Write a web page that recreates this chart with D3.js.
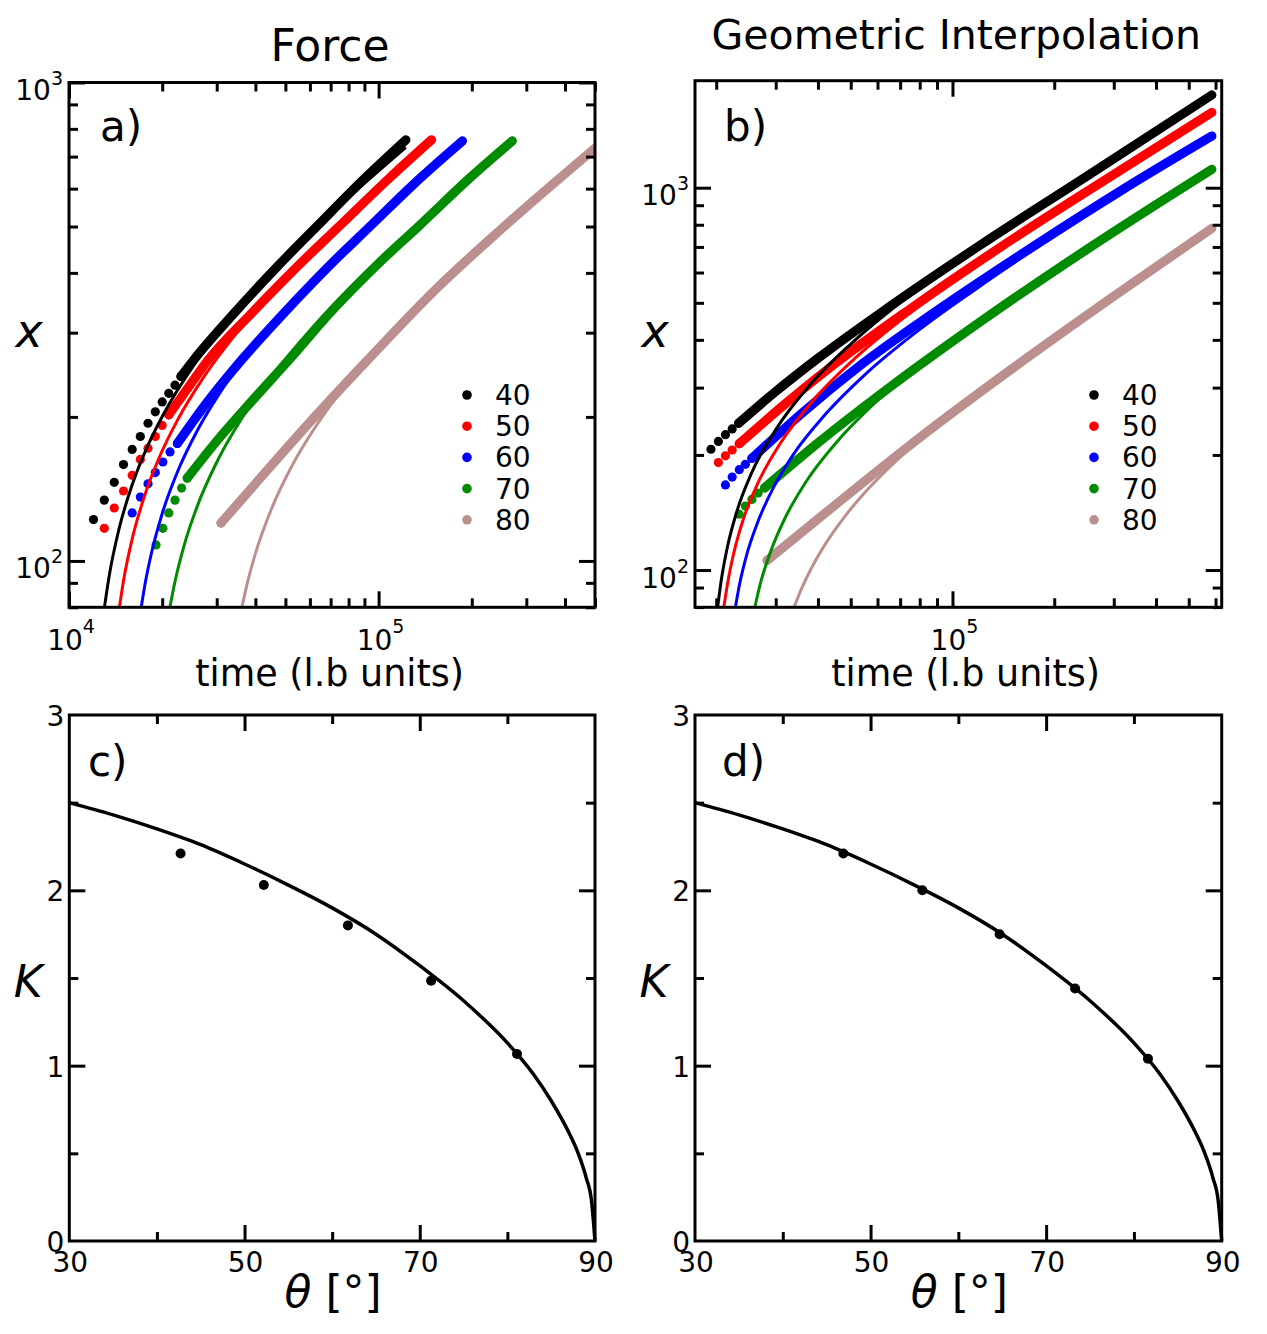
<!DOCTYPE html>
<html>
<head>
<meta charset="utf-8">
<title>Capillary filling: Force vs Geometric Interpolation</title>
<script src="https://cdn.jsdelivr.net/npm/d3@7"></script>
<style>
  body { margin: 0; background: #fff; }
  text { font-family: "DejaVu Sans", sans-serif; fill: #000; }
</style>
</head>
<body>
<div id="chart"></div>
<script>
/* * * * * * * * * * * * * *
*          data            *
* * * * * * * * * * * * * */

// contact angles, one series each
const angles = ["40", "50", "60", "70", "80"];
const seriesColors = ["#000000", "#ff0000", "#0000ff", "#008b00", "#bc8f8f"];

// panel a) Force : early dots that stand alone, [time, x]
const forceDots = [
    [[12000, 122], [13000, 134], [14000, 146], [15000, 159], [16000, 171], [17000, 182], [18000, 194], [19000, 205], [20000, 215], [21000, 224], [22000, 233], [23000, 243]],
    [[13000, 117], [14000, 129], [15000, 140], [16000, 151], [17000, 163], [18000, 172], [19000, 182], [20000, 192], [21000, 202]],
    [[16000, 126], [17000, 136], [18000, 145], [19000, 153], [20100, 161], [21200, 169], [22400, 176]],
    [[19100, 108], [20100, 117], [21000, 126], [22000, 134], [23100, 142], [24100, 149]],
    [[30970, 120]]
];
// panel a) the dots pile up into a band further on
const forceBand = [
    [[23000, 243], [25260, 263], [34220, 330], [47030, 412], [63100, 500], [90000, 630], [122500, 759]],
    [[21000, 202], [24000, 228], [28140, 263], [39000, 330], [54550, 412], [74460, 500], [108000, 630], [148300, 759]],
    [[22400, 176], [28000, 215], [36090, 263], [49960, 332], [69600, 415], [94650, 503], [135900, 630], [186600, 755]],
    [[24100, 149], [30000, 178], [39000, 216], [51320, 263], [71200, 335], [99700, 418], [135700, 503], [196200, 630], [270400, 755]],
    [[30970, 120], [40000, 145], [60000, 195], [92150, 263], [150000, 365], [250000, 495], [500000, 729]]
];
// panel a) fitted curves
const forceFit = [
    [[13015, 80], [13500, 93.5], [14500, 116.5], [16000, 144.3], [18000, 174.6], [21000, 212.1], [25000, 253.6], [32000, 313.3], [45000, 401.3], [65000, 507.6], [90000, 615.3], [122500, 731.9]],
    [[14550, 80], [15000, 90.9], [16000, 111.2], [17500, 136.2], [19500, 163.7], [22500, 197.9], [27000, 240.2], [35000, 301.1], [50000, 390.5], [75000, 505.5], [110000, 632.3], [148300, 746.7]],
    [[17110, 80], [17600, 89.4], [18500, 104.4], [20000, 125.6], [22500, 154.5], [26000, 187.6], [31000, 226.7], [40000, 283.8], [55000, 359.4], [80000, 458.4], [120000, 583.2], [186600, 745.3]],
    [[21180, 80], [22000, 90.6], [23500, 107.3], [26000, 130.5], [30000, 160.8], [36000, 197.7], [45000, 242.7], [60000, 303.3], [85000, 383.6], [130000, 496.3], [190000, 615.3], [270400, 745.6]],
    [[36200, 80], [37500, 88.8], [40000, 103.6], [45000, 128.1], [52000, 156.2], [62000, 189.1], [75000, 224.9], [92150, 264.8], [130000, 336.4], [200000, 439.2], [320000, 574], [500000, 731]]
];

// panel b) Geometric Interpolation
const geoDots = [
    [[19300, 207], [20300, 217], [21300, 226], [22300, 234], [23300, 242]],
    [[20300, 191], [21300, 199], [22300, 206], [23400, 214]],
    [[21300, 167], [22300, 175], [23400, 183], [24400, 189], [25500, 196]],
    [[23400, 140], [24400, 147], [25500, 153], [26600, 159], [27800, 164]],
    [[28300, 106]]
];
const geoBand = [
    [[23300, 242], [30000, 293], [40000, 358], [65000, 488], [120000, 705], [250000, 1072], [585000, 1748]],
    [[23400, 214], [32000, 272], [45000, 347], [75000, 482], [140000, 703], [290000, 1063], [585000, 1574]],
    [[25500, 196], [36000, 258], [52000, 337], [90000, 477], [170000, 694], [320000, 991], [585000, 1365]],
    [[27800, 164], [40000, 215], [65000, 300], [120000, 444], [250000, 690], [585000, 1117]],
    [[28300, 106], [45000, 148], [80000, 222], [150000, 336], [300000, 520], [585000, 783]]
];
const geoFit = [
    [[20200, 80], [20700, 94], [21500, 113], [23000, 142], [25500, 180], [30000, 233], [38000, 306], [50000, 390], [75000, 525]],
    [[21070, 80], [21600, 92], [22500, 110], [24000, 135], [26500, 168], [31000, 215], [39000, 280], [52000, 361], [80000, 492], [110000, 604]],
    [[22800, 80], [23400, 91], [24500, 108], [26500, 133], [29500, 164], [34000, 202], [42000, 255], [55000, 324], [80000, 426], [120000, 551], [180000, 705]],
    [[26030, 80], [27000, 92], [29000, 112], [32000, 137], [37000, 171], [45000, 214], [58000, 270], [80000, 342]],
    [[34010, 80], [35500, 88], [38000, 100], [42000, 116.7], [48000, 138], [56000, 162.1], [68000, 192.7], [85000, 229.1], [110000, 274], [155500, 342]]
];

// panels c) and d): K against contact angle
const forceTheta = [42.7, 52.2, 61.8, 71.3, 81.1];
const forceK = [2.21, 2.03, 1.80, 1.485, 1.067];
const geoTheta = [46.9, 55.9, 64.7, 73.3, 81.6];
const geoK = [2.21, 2.00, 1.75, 1.44, 1.04];
// theory line
const curveTheta = [30, 35, 40, 45, 50, 55, 60, 65, 70, 75, 80, 83, 85, 87, 88, 89, 89.6, 90];
const curveK = [2.50, 2.43, 2.35, 2.26, 2.15, 2.03, 1.90, 1.75, 1.57, 1.37, 1.13, 0.95, 0.80, 0.62, 0.51, 0.36, 0.23, 0];

/* * * * * * * * * * * * * *
*          layout          *
* * * * * * * * * * * * * */

const width = 1267, height = 1334;
const svg = d3.select("#chart").append("svg")
    .attr("width", width)
    .attr("height", height);

const boxA = {left: 69, right: 595, top: 82.5, bottom: 607.3};
const boxB = {left: 695, right: 1221.7, top: 80.7, bottom: 607.3};
const boxC = {left: 69.3, right: 595, top: 715, bottom: 1241};
const boxD = {left: 695, right: 1221.7, top: 715, bottom: 1241};

const majorLen = 16, minorLen = 9;

function addClip(id, box) {
    svg.append("clipPath").attr("id", id)
        .append("rect")
        .attr("x", box.left).attr("y", box.top)
        .attr("width", box.right - box.left).attr("height", box.bottom - box.top);
}

// inward ticks on all four sides
function drawTicks(box, x, y, xVals, yVals, len) {
    let g = svg.append("g");
    g.append("g").attr("transform", `translate(0,${box.bottom})`)
        .call(d3.axisBottom(x).tickValues(xVals).tickSize(-len).tickFormat(""));
    g.append("g").attr("transform", `translate(0,${box.top})`)
        .call(d3.axisTop(x).tickValues(xVals).tickSize(-len).tickFormat(""));
    g.append("g").attr("transform", `translate(${box.left},0)`)
        .call(d3.axisLeft(y).tickValues(yVals).tickSize(-len).tickFormat(""));
    g.append("g").attr("transform", `translate(${box.right},0)`)
        .call(d3.axisRight(y).tickValues(yVals).tickSize(-len).tickFormat(""));
    g.selectAll(".domain").remove();
    g.selectAll(".tick line").attr("stroke", "#000").attr("stroke-width", 3);
}

function drawFrame(box) {
    svg.append("rect")
        .attr("x", box.left).attr("y", box.top)
        .attr("width", box.right - box.left).attr("height", box.bottom - box.top)
        .attr("fill", "none").attr("stroke", "#000").attr("stroke-width", 3);
}

function isPow10(v) {
    let l = Math.log10(v);
    return Math.abs(l - Math.round(l)) < 1e-9;
}

// "10" with a raised exponent
function powLabel(px, py, exp, anchor, supDy) {
    let t = svg.append("text")
        .attr("x", px).attr("y", py)
        .attr("text-anchor", anchor)
        .style("font-size", "28px");
    t.append("tspan").text("10");
    t.append("tspan").attr("dy", supDy).style("font-size", "19px").text(exp);
}

function logPanel(id, box, xDomain, yDomain, dots, bands, fits, legendX, title, titleY, titleSize, timeX) {
    let x = d3.scaleLog().domain(xDomain).range([box.left, box.right]);
    let y = d3.scaleLog().domain(yDomain).range([box.bottom, box.top]);

    addClip("clip-" + id, box);
    let plot = svg.append("g").attr("clip-path", `url(#clip-${id})`);

    let line = d3.line()
        .x(d => x(d[0]))
        .y(d => y(d[1]))
        .curve(d3.curveMonotoneX);

    // simulation points: single dots, then the dense band
    angles.forEach((a, i) => {
        plot.append("path")
            .attr("d", line(bands[i]))
            .attr("fill", "none")
            .attr("stroke", seriesColors[i])
            .attr("stroke-width", 9.2)
            .attr("stroke-linecap", "round")
            .attr("stroke-linejoin", "round");
        plot.selectAll(null)
            .data(dots[i])
            .enter()
            .append("circle")
            .attr("cx", d => x(d[0]))
            .attr("cy", d => y(d[1]))
            .attr("r", 4.6)
            .attr("fill", seriesColors[i]);
    });

    // fits on top
    angles.forEach((a, i) => {
        plot.append("path")
            .attr("d", line(fits[i]))
            .attr("fill", "none")
            .attr("stroke", seriesColors[i])
            .attr("stroke-width", 3);
    });

    let xt = x.ticks(), yt = y.ticks();
    drawTicks(box, x, y, xt.filter(v => !isPow10(v)), yt.filter(v => !isPow10(v)), minorLen);
    drawTicks(box, x, y, xt.filter(isPow10), yt.filter(isPow10), majorLen);
    drawFrame(box);

    // tick labels
    xt.filter(isPow10).forEach(v => powLabel(x(v) + 2, 650, Math.round(Math.log10(v)), "middle", -17));
    yt.filter(isPow10).forEach(v => powLabel(box.left - 6, y(v) + 17.5, Math.round(Math.log10(v)), "end", -15));

    // legend
    let legend = svg.append("g");
    angles.forEach((a, i) => {
        let ly = 395 + 31.2 * i;
        legend.append("circle")
            .attr("cx", legendX).attr("cy", ly).attr("r", 4.8)
            .attr("fill", seriesColors[i]);
        legend.append("text")
            .attr("x", legendX + 28).attr("y", ly + 10)
            .style("font-size", "28px")
            .text(a);
    });

    let cx = (box.left + box.right) / 2;
    svg.append("text")
        .attr("x", cx - 2).attr("y", titleY)
        .attr("text-anchor", "middle")
        .style("font-size", titleSize)
        .text(title);
    svg.append("text")
        .attr("x", timeX).attr("y", 686)
        .attr("text-anchor", "middle")
        .style("font-size", "36.5px")
        .text("time (l.b units)");
    svg.append("text")
        .attr("x", box.left - 40).attr("y", 347)
        .attr("text-anchor", "middle")
        .style("font-size", "46px")
        .style("font-style", "italic")
        .text("x");
}

function kPanel(id, box, theta, kVals) {
    let x = d3.scaleLinear().domain([30, 90]).range([box.left, box.right]);
    let y = d3.scaleLinear().domain([0, 3]).range([box.bottom, box.top]);

    drawTicks(box, x, y, [40, 60, 80], [0.5, 1.5, 2.5], minorLen);
    drawTicks(box, x, y, [50, 70], [1, 2], majorLen);

    let line = d3.line()
        .x(d => x(d[0]))
        .y(d => y(d[1]))
        .curve(d3.curveMonotoneX);

    svg.append("path")
        .attr("d", line(curveTheta.map((t, i) => [t, curveK[i]])))
        .attr("fill", "none")
        .attr("stroke", "#000")
        .attr("stroke-width", 3.5);

    svg.append("g").selectAll("circle")
        .data(theta.map((t, i) => [t, kVals[i]]))
        .enter()
        .append("circle")
        .attr("cx", d => x(d[0]))
        .attr("cy", d => y(d[1]))
        .attr("r", 5)
        .attr("fill", "#000");

    drawFrame(box);

    [30, 50, 70, 90].forEach(v => {
        svg.append("text")
            .attr("x", x(v) + 1).attr("y", 1272)
            .attr("text-anchor", "middle")
            .style("font-size", "28px")
            .text(v);
    });
    [0, 1, 2, 3].forEach(v => {
        svg.append("text")
            .attr("x", box.left - 5).attr("y", y(v) + 11)
            .attr("text-anchor", "end")
            .style("font-size", "28px")
            .text(v);
    });

    svg.append("text")
        .attr("x", box.left - 41).attr("y", 997)
        .attr("text-anchor", "middle")
        .style("font-size", "44px")
        .style("font-style", "italic")
        .text("K");

    let lab = svg.append("text")
        .attr("x", (box.left + box.right) / 2 + 1).attr("y", 1307)
        .attr("text-anchor", "middle")
        .style("font-size", "44px");
    lab.append("tspan").style("font-style", "italic").text("θ");
    lab.append("tspan").text(" [°]");
}

logPanel("a", boxA, [1e4, 5e5], [80, 1000], forceDots, forceBand, forceFit, 467, "Force", 61, "44px", 329.6);
logPanel("b", boxB, [17310, 625800], [79.9, 1905], geoDots, geoBand, geoFit, 1094, "Geometric Interpolation", 49, "41px", 965.6);
kPanel("c", boxC, forceTheta, forceK);
kPanel("d", boxD, geoTheta, geoK);

// panel letters
[["a)", 100, 141], ["b)", 724, 141], ["c)", 88, 776], ["d)", 722, 776]].forEach(p => {
    svg.append("text")
        .attr("x", p[1]).attr("y", p[2])
        .style("font-size", "42px")
        .text(p[0]);
});
</script>
</body>
</html>
